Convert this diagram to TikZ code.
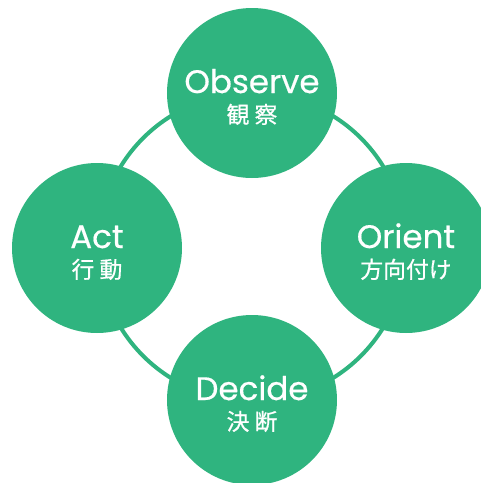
\documentclass[tikz,border=0pt]{standalone}
\usepackage{fontspec}
\setmainfont[FakeBold=0.5]{Poppins}
\newfontfamily\jpfont[FakeBold=0.6]{Noto Sans CJK JP}
\definecolor{oodagreen}{RGB}{47,180,127}
\tikzset{
  stage/.style={circle,fill=oodagreen,minimum size=3.4cm,inner sep=0pt},
  entext/.style={anchor=base,text=white,inner sep=0pt,font=\fontsize{18.5}{20}\selectfont},
  jptext/.style={anchor=base,text=white,inner sep=0pt,font=\jpfont\fontsize{13}{14}\selectfont},
  ring/.style={draw=oodagreen,line width=2.3pt}
}

\begin{document}
\begin{tikzpicture}
    \useasboundingbox (0,0) rectangle (9.62,-9.66);
    \coordinate (hub) at (5.04,-4.94);
    \draw[ring] (hub) circle (3.08);

    \node[stage] (observe) at (5.04,-1.86) {};
    \node[stage] (orient)  at (8.12,-4.96) {};
    \node[stage] (decide)  at (5.04,-8.00) {};
    \node[stage] (act)     at (1.94,-4.96) {};

    \node[entext] (observe-en) at (observe.center) {Observe};
    \node[jptext] (observe-jp) at ([yshift=-0.6cm]observe.center) {観 察};
    \node[entext] (orient-en) at (orient.center) {Orient};
    \node[jptext] (orient-jp) at ([yshift=-0.6cm]orient.center) {方向付け};
    \node[entext] (decide-en) at (decide.center) {Decide};
    \node[jptext] (decide-jp) at ([yshift=-0.6cm]decide.center) {決 断};
    \node[entext] (act-en) at (act.center) {Act};
    \node[jptext] (act-jp) at ([yshift=-0.6cm]act.center) {行 動};
\end{tikzpicture}
\end{document}
